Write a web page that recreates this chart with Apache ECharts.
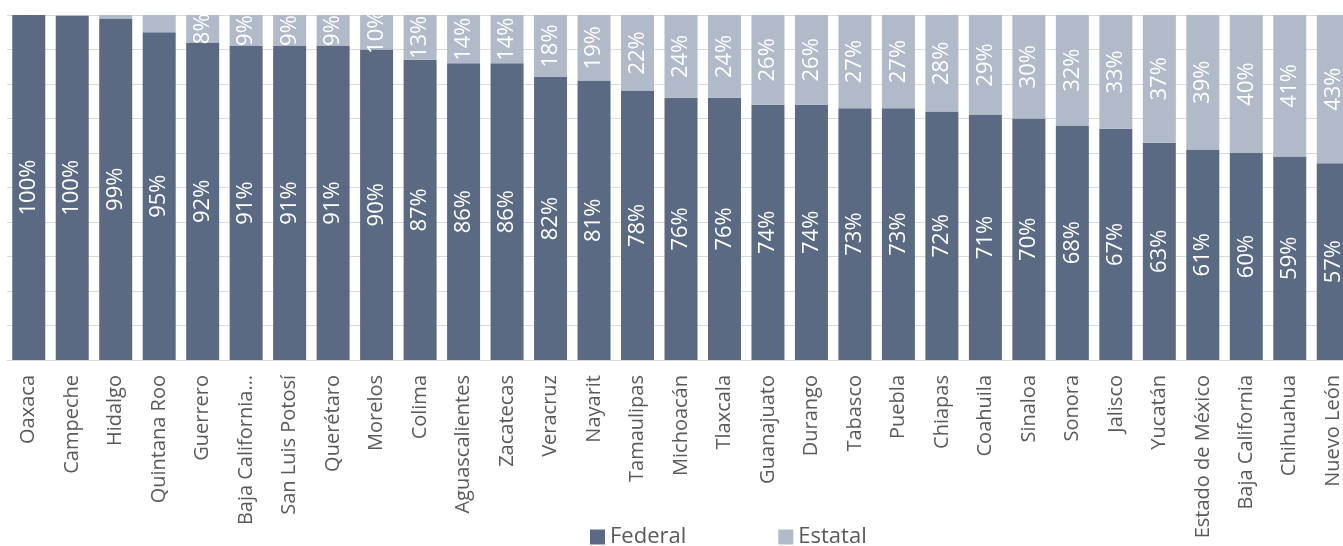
<!DOCTYPE html>
<html>
<head>
<meta charset="utf-8">
<script src="https://cdn.jsdelivr.net/npm/echarts@6/dist/echarts.min.js"></script>
<style>
  html, body { margin: 0; padding: 0; background: #ffffff; }
  #chart { width: 1343px; height: 546px; }
</style>
</head>
<body>
<div id="chart"></div>
<script>
// estados, ordenados por participación federal
const estados = ['Oaxaca', 'Campeche', 'Hidalgo', 'Quintana Roo', 'Guerrero', 'Baja California Sur',
  'San Luis Potosí', 'Querétaro', 'Morelos', 'Colima', 'Aguascalientes', 'Zacatecas', 'Veracruz',
  'Nayarit', 'Tamaulipas', 'Michoacán', 'Tlaxcala', 'Guanajuato', 'Durango', 'Tabasco', 'Puebla',
  'Chiapas', 'Coahuila', 'Sinaloa', 'Sonora', 'Jalisco', 'Yucatán', 'Estado de México',
  'Baja California', 'Chihuahua', 'Nuevo León'];

const federal = [100, 99.8, 99, 95, 92, 91, 91, 91, 90, 87, 86, 86, 82, 81, 78, 76, 76, 74, 74, 73, 73,
  72, 71, 70, 68, 67, 63, 61, 60, 59, 57];
const estatal = [0, 0.2, 1, 5, 8, 9, 9, 9, 10, 13, 14, 14, 18, 19, 22, 24, 24, 26, 26, 27, 27,
  28, 29, 30, 32, 33, 37, 39, 40, 41, 43];

const FONT = "'Open Sans', 'Noto Sans', sans-serif";

const chart = echarts.init(document.getElementById('chart'));

chart.setOption({
  animation: false,
  textStyle: { fontFamily: FONT },
  legend: {
    left: 585,
    top: 521,
    itemWidth: 15,
    itemHeight: 15,
    itemGap: 92,
    icon: 'rect',
    textStyle: { fontSize: 22, color: '#595959', fontFamily: FONT },
    data: ['Federal', 'Estatal']
  },
  grid: {
    left: 7,
    top: 15,
    width: 1348, // la última columna queda cortada
    bottom: 186,
    outerBoundsMode: 'none',
    containLabel: false
  },
  xAxis: {
    type: 'category',
    data: estados,
    axisLine: { lineStyle: { color: '#d9d9d9', width: 1 } },
    axisTick: { show: false },
    axisLabel: {
      rotate: 90,
      interval: 0,
      margin: 15,
      fontSize: 20,
      color: '#595959',
      fontFamily: FONT,
      formatter: v => v === 'Baja California Sur' ? 'Baja California…' : v
    }
  },
  yAxis: {
    type: 'value',
    min: 0,
    max: 100,
    interval: 10,
    axisLabel: { show: false },
    axisLine: { show: false },
    axisTick: { show: false },
    splitLine: { lineStyle: { color: '#d9d9d9', width: 1 } }
  },
  series: [{
    name: 'Federal',
    type: 'bar',
    stack: 'total',
    barWidth: 33,
    data: federal,
    itemStyle: { color: '#5a6a83' },
    label: {
      show: true,
      position: 'inside',
      rotate: 90,
      color: '#ffffff',
      fontSize: 22,
      fontFamily: FONT,
      formatter: p => Math.round(p.value) + '%'
    }
  }, {
    name: 'Estatal',
    type: 'bar',
    stack: 'total',
    barWidth: 33,
    data: estatal,
    itemStyle: { color: '#b0bac9' },
    label: {
      show: true,
      position: 'inside',
      rotate: 90,
      color: '#ffffff',
      fontSize: 22,
      fontFamily: FONT,
      formatter: p => p.value >= 8 ? Math.round(p.value) + '%' : ''
    }
  }]
});
</script>
</body>
</html>
